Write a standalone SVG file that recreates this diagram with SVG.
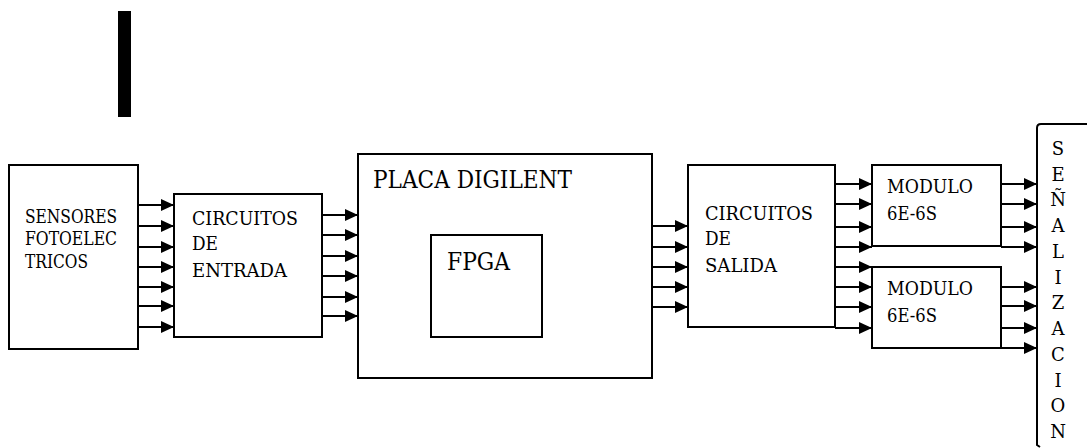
<svg xmlns="http://www.w3.org/2000/svg" width="1087" height="448" viewBox="0 0 1087 448">
<style>
.box{fill:#fff;stroke:#000;stroke-width:2}
.t{font-family:"DejaVu Serif","Liberation Serif",serif;font-size:18px;fill:#000}
.big{font-family:"DejaVu Serif","Liberation Serif",serif;font-size:24px;fill:#000}
.v{font-family:"DejaVu Serif","Liberation Serif",serif;font-size:18px;fill:#000;text-anchor:middle}
.c line{stroke:#000;stroke-width:2;marker-end:url(#ah)}
</style>
<defs>
<marker id="ah" markerUnits="userSpaceOnUse" markerWidth="13" markerHeight="12" refX="13" refY="6" orient="auto">
<path d="M0,0 L13,6 L0,12 z" fill="#000"/>
</marker>
</defs>
<rect width="1087" height="448" fill="#fff"/>
<rect id="bar" x="118" y="11" width="13" height="106" fill="#000"/>
<g id="sensores">
<rect class="box" x="9" y="165" width="129" height="184"/>
<text class="t" x="25" y="223" textLength="92" lengthAdjust="spacingAndGlyphs">SENSORES</text>
<text class="t" x="25" y="245" textLength="92" lengthAdjust="spacingAndGlyphs">FOTOELEC</text>
<text class="t" x="25" y="268" textLength="63" lengthAdjust="spacingAndGlyphs">TRICOS</text>
</g>
<g id="entrada">
<rect class="box" x="174" y="194" width="148" height="143"/>
<text class="t" x="192" y="225" textLength="106" lengthAdjust="spacingAndGlyphs">CIRCUITOS</text>
<text class="t" x="192" y="250" textLength="26" lengthAdjust="spacingAndGlyphs">DE</text>
<text class="t" x="192" y="277" textLength="95" lengthAdjust="spacingAndGlyphs">ENTRADA</text>
</g>
<g id="placa">
<rect class="box" x="358" y="154" width="294" height="224"/>
<text class="big" x="373" y="188" textLength="199" lengthAdjust="spacingAndGlyphs">PLACA DIGILENT</text>
</g>
<g id="fpga">
<rect class="box" x="431" y="235" width="111" height="102"/>
<text class="big" x="447" y="270" textLength="63" lengthAdjust="spacingAndGlyphs">FPGA</text>
</g>
<g id="salida">
<rect class="box" x="688" y="165" width="147" height="162"/>
<text class="t" x="705" y="220" textLength="108" lengthAdjust="spacingAndGlyphs">CIRCUITOS</text>
<text class="t" x="705" y="245" textLength="26" lengthAdjust="spacingAndGlyphs">DE</text>
<text class="t" x="705" y="272" textLength="72" lengthAdjust="spacingAndGlyphs">SALIDA</text>
</g>
<g id="modulo1">
<rect class="box" x="872" y="165" width="129" height="81"/>
<text class="t" x="887" y="193" textLength="86" lengthAdjust="spacingAndGlyphs">MODULO</text>
<text class="t" x="887" y="220" textLength="50" lengthAdjust="spacingAndGlyphs">6E-6S</text>
</g>
<g id="modulo2">
<rect class="box" x="872" y="267" width="129" height="81"/>
<text class="t" x="887" y="295" textLength="86" lengthAdjust="spacingAndGlyphs">MODULO</text>
<text class="t" x="887" y="322" textLength="50" lengthAdjust="spacingAndGlyphs">6E-6S</text>
</g>
<g id="senalizacion">
<path d="M1087,124 H1041 Q1037,124 1037,128 V445 L1040,447" fill="none" stroke="#000" stroke-width="2"/>
<text class="v" x="1058" y="155">S</text>
<text class="v" x="1058" y="181">E</text>
<text class="v" x="1058" y="206">Ñ</text>
<text class="v" x="1058" y="232">A</text>
<text class="v" x="1058" y="258">L</text>
<text class="v" x="1058" y="284">I</text>
<text class="v" x="1058" y="309">Z</text>
<text class="v" x="1058" y="335">A</text>
<text class="v" x="1058" y="361">C</text>
<text class="v" x="1058" y="387">I</text>
<text class="v" x="1058" y="412">O</text>
<text class="v" x="1058" y="438">N</text>
</g>
<g id="connectors" class="c">
<line x1="138" y1="205" x2="174" y2="205"/>
<line x1="138" y1="226" x2="174" y2="226"/>
<line x1="138" y1="247" x2="174" y2="247"/>
<line x1="138" y1="267" x2="174" y2="267"/>
<line x1="138" y1="287" x2="174" y2="287"/>
<line x1="138" y1="306" x2="174" y2="306"/>
<line x1="138" y1="327" x2="174" y2="327"/>
<line x1="322" y1="215" x2="358" y2="215"/>
<line x1="322" y1="235" x2="358" y2="235"/>
<line x1="322" y1="256" x2="358" y2="256"/>
<line x1="322" y1="276" x2="358" y2="276"/>
<line x1="322" y1="297" x2="358" y2="297"/>
<line x1="322" y1="316" x2="358" y2="316"/>
<line x1="652" y1="226" x2="688" y2="226"/>
<line x1="652" y1="247" x2="688" y2="247"/>
<line x1="652" y1="267" x2="688" y2="267"/>
<line x1="652" y1="287" x2="688" y2="287"/>
<line x1="652" y1="307" x2="688" y2="307"/>
<line x1="835" y1="184" x2="872" y2="184"/>
<line x1="835" y1="204" x2="872" y2="204"/>
<line x1="835" y1="227" x2="872" y2="227"/>
<line x1="835" y1="247" x2="872" y2="247"/>
<line x1="835" y1="267" x2="872" y2="267"/>
<line x1="835" y1="287" x2="872" y2="287"/>
<line x1="835" y1="307" x2="872" y2="307"/>
<line x1="835" y1="328" x2="872" y2="328"/>
<line x1="1001" y1="184" x2="1037" y2="184"/>
<line x1="1001" y1="204" x2="1037" y2="204"/>
<line x1="1001" y1="227" x2="1037" y2="227"/>
<line x1="1001" y1="247" x2="1037" y2="247"/>
<line x1="1001" y1="287" x2="1037" y2="287"/>
<line x1="1001" y1="306" x2="1037" y2="306"/>
<line x1="1001" y1="328" x2="1037" y2="328"/>
<line x1="1001" y1="348" x2="1037" y2="348"/>
</g>
</svg>
